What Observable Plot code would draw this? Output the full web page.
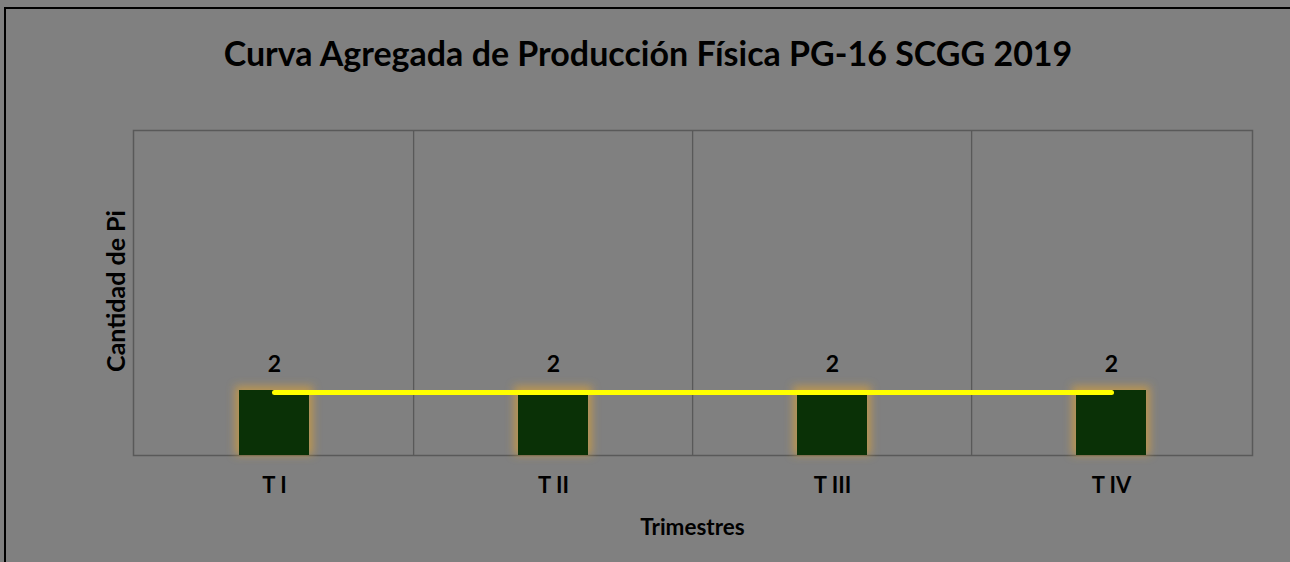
<!DOCTYPE html>
<html>
<head>
<meta charset="utf-8">
<script src="https://cdn.jsdelivr.net/npm/d3@7"></script>
<script src="https://cdn.jsdelivr.net/npm/@observablehq/plot@0.6"></script>
<style>
  html, body { margin: 0; padding: 0; background: #808080; overflow: hidden; }
  #wrap { position: relative; width: 1290px; height: 562px; overflow: hidden; background: #808080; font-family: Lato, "Open Sans", sans-serif; }
  #edgeTop { position: absolute; left: 4px; top: 7px; width: 1290px; height: 2px; background: #000; }
  #edgeLeft { position: absolute; left: 4px; top: 7px; width: 2px; height: 600px; background: #000; }
  #title { position: absolute; left: 0; width: 1296px; top: 31px; text-align: center; font-weight: bold; font-size: 34px; line-height: 44px; color: #000; }
  #xlabel { position: absolute; left: 133px; width: 1119px; top: 514px; text-align: center; font-weight: bold; font-size: 22.5px; line-height: 26px; color: #000; }
  #ylabel { position: absolute; left: 115px; top: 291px; transform: translate(-50%, -50%) rotate(-90deg); white-space: nowrap; font-weight: bold; font-size: 25px; line-height: 30px; color: #000; }
  #chart { position: absolute; left: 0; top: 0; width: 1290px; height: 562px; }
  #chart svg { display: block; }
</style>
</head>
<body>
<div id="wrap">
  <div id="edgeTop"></div>
  <div id="edgeLeft"></div>
  <div id="title">Curva Agregada de Producción Física PG-16 SCGG 2019</div>
  <div id="chart"></div>
  <div id="ylabel">Cantidad de Pi</div>
  <div id="xlabel">Trimestres</div>
</div>
<script>
const categories = ["T I", "T II", "T III", "T IV"];
const values = [2, 2, 2, 2];
const yDomain = [0, 10];

const data = categories.map((c, i) => ({cat: c, value: values[i]}));

const W = 1290, H = 562;
const mL = 133, mR = 38, mT = 130, mB = 107;
const step = (W - mL - mR) / categories.length;
const glowColor = "#cf9c42";

const plot = Plot.plot({
  width: W,
  height: H,
  marginLeft: mL,
  marginRight: mR,
  marginTop: mT,
  marginBottom: mB,
  style: {background: "transparent", fontFamily: "Lato, 'Open Sans', sans-serif", fontSize: "22px", fontWeight: "bold", color: "#000"},
  x: {domain: categories, paddingInner: 0.75, paddingOuter: 0.375, label: null, tickSize: 0, tickPadding: 22},
  y: {domain: yDomain, axis: null},
  marks: [
    Plot.ruleX(categories.slice(1), {x: d => d, dx: -step / 2, stroke: "#595959", strokeWidth: 1.3}),
    Plot.frame({stroke: "#595959", strokeWidth: 1.5}),
    Plot.barY(data, {x: "cat", y: "value", fill: glowColor, fillOpacity: 0.75, insetLeft: -4, insetRight: -4, insetTop: -4}),
    Plot.barY(data, {x: "cat", y: "value", fill: "#0a3106"}),
    Plot.lineY(data, {x: "cat", y: "value", stroke: "#ffff00", strokeWidth: 5, strokeLinecap: "round", dy: 2}),
    Plot.text(data, {x: "cat", y: "value", text: d => String(d.value), dy: -26, fontSize: 23, fontWeight: "bold", fill: "#000"})
  ]
});

const svg = d3.select(plot);
const defs = svg.insert("defs", ":first-child");
const filt = defs.append("filter").attr("id", "glow").attr("x", "-50%").attr("y", "-50%").attr("width", "200%").attr("height", "200%");
filt.append("feGaussianBlur").attr("stdDeviation", 4);
svg.selectAll("g").filter(function() { return (this.getAttribute("fill") || "").toLowerCase() === glowColor; }).attr("filter", "url(#glow)");

document.getElementById("chart").appendChild(plot);
</script>
</body>
</html>
